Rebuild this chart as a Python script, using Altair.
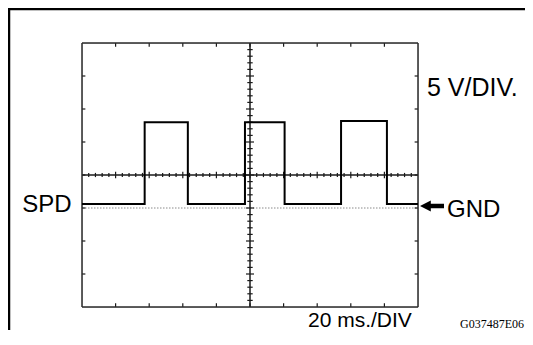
import altair as alt
import pandas as pd

# ---- signal (time in ms, voltage in V, GND = 0 V) ----
sig_t = [0, 37.3, 63.0, 97.0, 120.6, 154.2, 181.5, 200]
sig_v = [0.6, 13.0, 0.6, 13.0, 0.6, 13.2, 0.6, 0.6]

# ---- screen layout: 10 div x 20 ms, 8 div x 5 V ----
T_MIN, T_MAX = 0, 200
V_MIN, V_MAX = -15, 25
T_CENTER = 100
V_CENTER = 5
GND_V = 0
time_divs = [20 * k for k in range(1, 10)]
volt_divs = [-15 + 5 * k for k in range(1, 8)]
time_sub = [4 * k for k in range(1, 50)]
volt_sub = [-15 + k for k in range(1, 40)]

labels = ["5 V/DIV.", "SPD", "GND", "20 ms./DIV", "G037487E06"]

xs = alt.Scale(domain=[T_MIN, T_MAX], nice=False, zero=False)
ys = alt.Scale(domain=[V_MIN, V_MAX], nice=False, zero=False)

INK = "#1a1a1a"

def rules(df, width, color=INK, dash=None):
    kw = dict(strokeWidth=width, color=color)
    if dash:
        kw["strokeDash"] = dash
    return alt.Chart(df).mark_rule(**kw).encode(
        x=alt.X("x:Q", scale=xs, axis=None),
        x2="x2:Q",
        y=alt.Y("y:Q", scale=ys, axis=None),
        y2="y2:Q",
    )

# frame
frame = pd.DataFrame([
    dict(x=T_MIN, x2=T_MAX, y=V_MAX, y2=V_MAX),
    dict(x=T_MIN, x2=T_MAX, y=V_MIN, y2=V_MIN),
    dict(x=T_MIN, x2=T_MIN, y=V_MIN, y2=V_MAX),
    dict(x=T_MAX, x2=T_MAX, y=V_MIN, y2=V_MAX),
])
center = pd.DataFrame([
    dict(x=T_MIN, x2=T_MAX, y=V_CENTER, y2=V_CENTER),
    dict(x=T_CENTER, x2=T_CENTER, y=V_MIN, y2=V_MAX),
])

# ticks
tick_rows = []
for t in time_divs:
    tick_rows.append(dict(x=t, x2=t, y=V_MAX, y2=V_MAX - 0.55))
    tick_rows.append(dict(x=t, x2=t, y=V_MIN, y2=V_MIN + 0.55))
for v in volt_divs:
    tick_rows.append(dict(x=T_MIN, x2=T_MIN + 2.0, y=v, y2=v))
    tick_rows.append(dict(x=T_MAX, x2=T_MAX - 2.0, y=v, y2=v))
for t in time_sub:
    h = 0.5 if t % 20 == 0 else 0.32
    tick_rows.append(dict(x=t, x2=t, y=V_CENTER - h, y2=V_CENTER + h))
for v in volt_sub:
    w = 2.4 if v % 5 == 0 else 1.6
    tick_rows.append(dict(x=T_CENTER - w, x2=T_CENTER + w, y=v, y2=v))
ticks = pd.DataFrame(tick_rows)

gnd = pd.DataFrame([dict(x=T_MIN, x2=T_MAX, y=GND_V, y2=GND_V)])

signal = pd.DataFrame({"t": sig_t, "v": sig_v})
trace = alt.Chart(signal).mark_line(
    interpolate="step-after", color="#000000", strokeWidth=2
).encode(
    x=alt.X("t:Q", scale=xs, axis=None),
    y=alt.Y("v:Q", scale=ys, axis=None),
)

one = pd.DataFrame({"k": [0]})

def label(text, x, y, size, align="left", font="Liberation Sans"):
    return alt.Chart(one).mark_text(
        text=text, fontSize=size, font=font, align=align,
        baseline="alphabetic", color="#000000"
    ).encode(x=alt.value(x), y=alt.value(y))

texts = [
    label(labels[0], 345, 52.5, 25),
    label(labels[1], -10.5, 169, 24, align="right"),
    label(labels[2], 365, 174, 24),
    label(labels[3], 226, 283.5, 21),
    label(labels[4], 442, 284.5, 12, align="right", font="Liberation Serif"),
]

arrow = alt.Chart(one).mark_point(
    shape="M -1 0 L -0.1 -0.45 L -0.1 -0.18 L 1 -0.18 L 1 0.18 L -0.1 0.18 L -0.1 0.45 Z",
    size=576, filled=True, opacity=1, color="#000000", strokeWidth=0,
).encode(x=alt.value(350), y=alt.value(163))

border_left = alt.Chart(one).mark_rule(color="#000000", strokeWidth=2.5).encode(
    x=alt.value(-73), y=alt.value(-35), y2=alt.value(300)
)
border_top = alt.Chart(one).mark_rule(color="#000000", strokeWidth=2.5).encode(
    x=alt.value(-74), x2=alt.value(460), y=alt.value(-34)
)

chart = alt.layer(
    rules(gnd, 1, color="#8a8a8a", dash=[1.5, 1.5]),
    rules(ticks, 1.2),
    rules(center, 1.5),
    rules(frame, 1.5, color="#2a2a2a"),
    trace,
    arrow,
    border_left,
    border_top,
    *texts,
).properties(
    width=336,
    height=264,
    padding={"left": 74, "top": 35, "right": 107, "bottom": 23},
    autosize=alt.AutoSizeParams(type="none"),
).configure_view(stroke=None).configure(background="#ffffff")

chart.save("out.html", embed_options={"renderer": "svg", "actions": False})
